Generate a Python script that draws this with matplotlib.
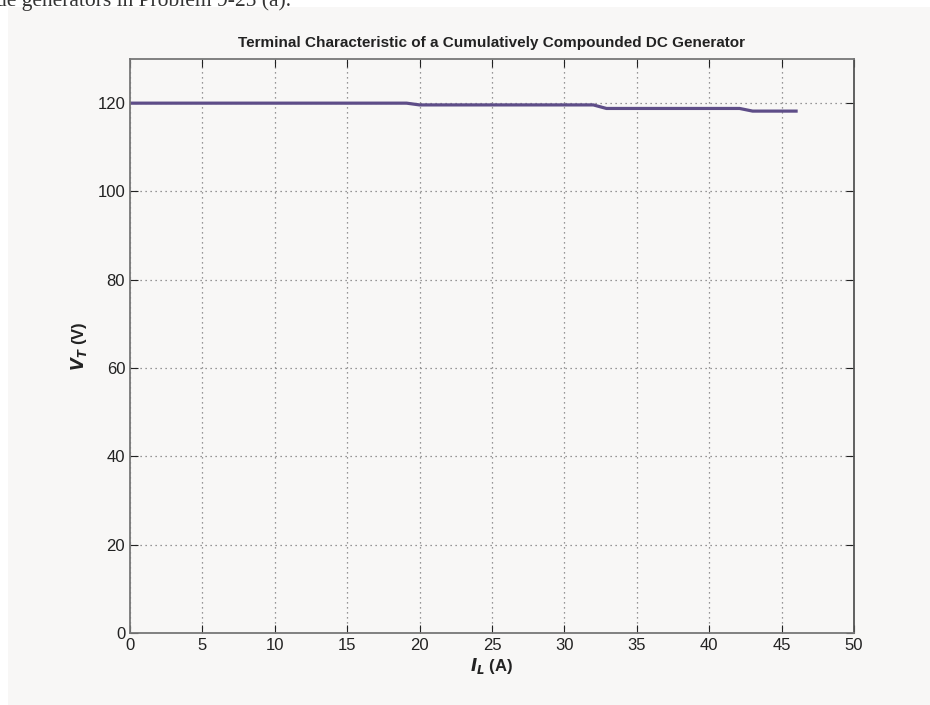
import matplotlib.pyplot as plt
from matplotlib.patches import Rectangle

# terminal characteristic
i_load = [0, 19.1, 20.0, 32.0, 32.9, 42.1, 43.0, 46.0]
v_term = [120.0, 120.0, 119.6, 119.6, 118.8, 118.8, 118.2, 118.2]

plt.rcParams['font.family'] = ['Liberation Sans', 'DejaVu Sans']

fig = plt.figure(figsize=(9.3, 7.05), dpi=100)
fig.patch.set_facecolor('white')

# gray panel behind the figure (screenshot look)
fig.patches.append(Rectangle((8 / 930, 0), 1, 1 - 7 / 705, transform=fig.transFigure,
                             facecolor='#f8f7f6', edgecolor='none', zorder=-10))
fig.text(-0.004, 1.012, 'de generators in Problem 9-25 (a).', family='Liberation Serif',
         fontsize=15.5, color='#333333', va='top', ha='left')

ax = fig.add_axes([130 / 930, 1 - 633 / 705, 724 / 930, 574 / 705])
ax.set_facecolor('#f8f7f6')

ax.plot(i_load, v_term, color='#5e4d88', linewidth=2.3)

ax.set_xlim(0, 50)
ax.set_ylim(0, 130)
ax.set_xticks(range(0, 51, 5))
ax.set_yticks(range(0, 121, 20))
ax.grid(True, linestyle=(0, (1, 3)), color='#777777', linewidth=0.9)
ax.tick_params(direction='in', labelsize=12, length=6, colors='#222222',
               top=True, right=True)
for s in ax.spines.values():
    s.set_color('#777777')
    s.set_linewidth(1.3)
ax.spines['right'].set_color('#555555')

ax.set_title('Terminal Characteristic of a Cumulatively Compounded DC Generator',
             fontsize=11, fontweight='bold', pad=9, color='#222222')
ax.set_xlabel(r'$\mathbfit{I}_{\mathbfit{L}}$ (A)', fontsize=12, fontweight='bold',
              labelpad=2, color='#222222')
ax.set_ylabel(r'$\mathbfit{V}_{\mathbfit{T}}$ (V)', fontsize=12, fontweight='bold',
              labelpad=6, color='#222222')

fig.savefig('out.png', dpi=100)
